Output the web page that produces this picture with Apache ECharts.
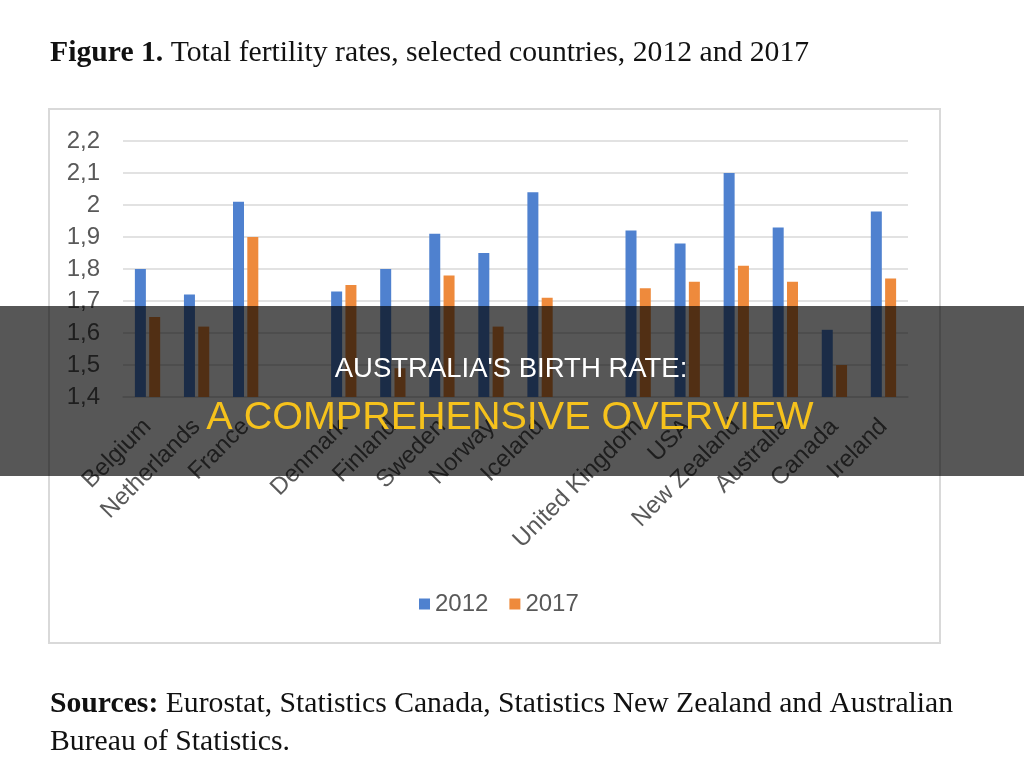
<!DOCTYPE html>
<html>
<head>
<meta charset="utf-8">
<script src="https://cdn.jsdelivr.net/npm/echarts@6/dist/echarts.min.js"></script>
<style>
html,body{margin:0;padding:0;background:#fff;}
#chart{width:1024px;height:783px;}
</style>
</head>
<body>
<div id="chart"></div>
<script>
const categories = ['Belgium','Netherlands','France','','Denmark','Finland','Sweden','Norway','Iceland','','United Kingdom','USA','New Zealand','Australia','Canada','Ireland'];
const values2012 = [1.80,1.72,2.01,null,1.73,1.80,1.91,1.85,2.04,null,1.92,1.88,2.10,1.93,1.61,1.98];
const values2017 = [1.65,1.62,1.90,null,1.75,1.49,1.78,1.62,1.71,null,1.74,1.76,1.81,1.76,1.50,1.77];
const seriesNames = ['2012','2017'];
const figureTitleBold = 'Figure 1.';
const figureTitleRest = ' Total fertility rates, selected countries, 2012 and 2017';
const sourcesBold = 'Sources:';
const sourcesLine1 = ' Eurostat, Statistics Canada, Statistics New Zealand and Australian';
const sourcesLine2 = 'Bureau of Statistics.';
const overlayLine1 = "AUSTRALIA'S BIRTH RATE:";
const overlayLine2 = 'A COMPREHENSIVE OVERVIEW';

const chart = echarts.init(document.getElementById('chart'));
const gray = '#595959';
const serif = '"Liberation Serif", "Times New Roman", serif';
const sans = '"Liberation Sans", Arial, sans-serif';

chart.setOption({
  animation: false,
  backgroundColor: '#ffffff',
  grid: { left: 123, right: 116, top: 141, bottom: 386, containLabel: false },
  legend: {
    data: seriesNames,
    left: 419, top: 592, padding: 0,
    icon: 'rect', itemWidth: 11, itemHeight: 11, itemGap: 21,
    textStyle: { color: gray, fontSize: 24, fontFamily: sans }
  },
  xAxis: {
    type: 'category',
    data: categories,
    axisLine: { show: true, lineStyle: { color: '#d9d9d9', width: 1.5 } },
    axisTick: { show: false },
    axisLabel: { rotate: 45, interval: 0, color: gray, fontSize: 24, fontFamily: sans, margin: 26 }
  },
  yAxis: {
    type: 'value', min: 1.4, max: 2.2, interval: 0.1,
    axisLine: { show: false }, axisTick: { show: false },
    splitLine: { lineStyle: { color: '#d9d9d9', width: 1.5 } },
    axisLabel: {
      color: gray, fontSize: 24, fontFamily: sans, margin: 23,
      formatter: v => String(Math.round(v * 10) / 10).replace('.', ',')
    }
  },
  series: [
    { name: seriesNames[0], type: 'bar', data: values2012, barWidth: 11, barGap: '30%', itemStyle: { color: '#4f81cf' } },
    { name: seriesNames[1], type: 'bar', data: values2017, barWidth: 11, barGap: '30%', itemStyle: { color: '#ee8a3c' } }
  ],
  graphic: [
    { type: 'rect', z: -10, silent: true, shape: { x: 49, y: 109, width: 891, height: 534 }, style: { fill: 'none', stroke: '#d9d9d9', lineWidth: 2 } },
    { type: 'text', left: 50, top: 38, style: {
        text: '{b|' + figureTitleBold + '}{n|' + figureTitleRest + '}',
        rich: { b: { fontFamily: serif, fontWeight: 'bold', fontSize: 29.7, fill: '#111' }, n: { fontFamily: serif, fontSize: 29.7, fill: '#111' } }
    } },
    { type: 'text', left: 50, top: 689, style: {
        text: '{b|' + sourcesBold + '}{n|' + sourcesLine1 + '}\n{n|' + sourcesLine2 + '}',
        rich: { b: { fontFamily: serif, fontWeight: 'bold', fontSize: 29.7, fill: '#111', lineHeight: 38 }, n: { fontFamily: serif, fontSize: 29.7, fill: '#111', lineHeight: 38 } }
    } },
    { type: 'rect', z: 100, silent: true, shape: { x: 0, y: 306, width: 1024, height: 170 }, style: { fill: 'rgba(0,0,0,0.66)' } },
    { type: 'text', z: 101, silent: true, x: 511, y: 369, style: { text: overlayLine1, fill: '#ffffff', font: '27.5px ' + sans, align: 'center', verticalAlign: 'middle' } },
    { type: 'text', z: 101, silent: true, x: 510, y: 418, style: { text: overlayLine2, fill: '#f6c21c', font: '39.5px ' + sans, align: 'center', verticalAlign: 'middle' } }
  ]
});
</script>
</body>
</html>
